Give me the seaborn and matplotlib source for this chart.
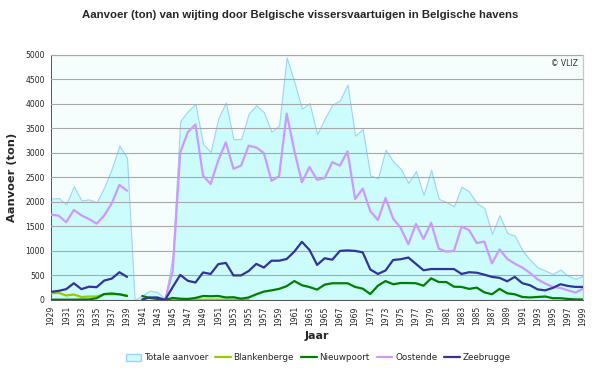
import numpy as np
import pandas as pd
import matplotlib
matplotlib.use("Agg")
import matplotlib.pyplot as plt
from matplotlib.patches import Patch
from matplotlib.lines import Line2D
import seaborn as sns

nan = np.nan
years = list(range(1929, 2000))

# totale aanvoer (ton), 1940 = 0
totaal = [2065, 2080, 1950, 2320, 2030, 2050, 1990, 2300, 2680, 3150, 2900,
          0, 90, 190, 160, 20, 900, 3650, 3850, 4000, 3180,
          3020, 3700, 4030, 3280, 3280, 3800, 3970, 3830, 3430, 3560,
          4950, 4450, 3900, 4015, 3380, 3700, 3980, 4070, 4390, 3350,
          3485, 2540, 2480, 3065, 2825, 2675, 2385, 2630, 2145, 2655,
          2060, 2000, 1910, 2310, 2210, 1975, 1875, 1350, 1730, 1365,
          1310, 1010, 820, 665, 600, 530, 620, 495, 430, 495]

blankenberge = [135, 145, 90, 110, 60, 70, 70, 115, 115, 115, 90,
                nan, nan, nan, nan, 0, 10, 10, 8, 8, 5,
                5, 5, 5, 5, 5, 5, nan, nan, nan, nan,
                nan, nan, nan, nan, nan, nan, nan, nan, nan, nan,
                nan, nan, nan, nan, nan, nan, nan, nan, nan, nan,
                nan, nan, nan, nan, nan, nan, nan, nan, nan, nan,
                nan, nan, nan, nan, nan, nan, nan, nan, nan, nan]

nieuwpoort = [5, 5, 5, 5, 8, 10, 35, 120, 130, 115, 80,
              nan, 80, 40, 20, 0, 40, 25, 20, 40, 80,
              75, 80, 50, 55, 25, 50, 115, 170, 195, 225,
              280, 385, 300, 262, 210, 312, 340, 340, 340, 265,
              230, 120, 290, 385, 320, 345, 345, 340, 290, 440,
              365, 365, 270, 265, 225, 250, 155, 115, 225, 135,
              115, 60, 50, 60, 70, 35, 35, 20, 10, 10]

oostende = [1740, 1720, 1585, 1835, 1725, 1650, 1555, 1720, 1975, 2345, 2230,
            nan, nan, nan, nan, 0, 585, 3010, 3425, 3580, 2535,
            2365, 2845, 3215, 2675, 2740, 3145, 3110, 2995, 2430, 2525,
            3800, 3050, 2400, 2710, 2450, 2485, 2810, 2740, 3030, 2060,
            2270, 1810, 1630, 2080, 1660, 1470, 1135, 1550, 1245, 1575,
            1045, 985, 1000, 1495, 1425, 1160, 1190, 745, 1030, 840,
            740, 660, 550, 420, 335, 265, 245, 195, 150, 230]

zeebrugge = [165, 185, 220, 340, 220, 270, 260, 395, 435, 565, 470,
             nan, 10, 50, 50, 0, 260, 510, 390, 355, 560,
             530, 730, 755, 500, 500, 590, 735, 660, 800, 800,
             835, 985, 1185, 1020, 715, 850, 820, 1000, 1010, 1000,
             970, 620, 530, 600, 815, 830, 865, 735, 605, 630,
             630, 630, 630, 530, 565, 555, 515, 470, 450, 380,
             470, 340, 300, 215, 195, 245, 320, 285, 265, 265]

havens = ["Blankenberge", "Nieuwpoort", "Oostende", "Zeebrugge"]
kleuren = {"Blankenberge": "#99cc00", "Nieuwpoort": "#008000",
           "Oostende": "#cc99ff", "Zeebrugge": "#333399"}

# long form, with a 'periode' so the war gap stays open
rows = []
for naam, vals in zip(havens, [blankenberge, nieuwpoort, oostende, zeebrugge]):
    for j, v in zip(years, vals):
        if not np.isnan(v):
            rows.append({"jaar": j, "haven": naam, "aanvoer": v,
                         "periode": "voor" if j < 1940 else "na"})
df = pd.DataFrame(rows)

sns.set_style("white")
plt.rcParams["font.family"] = ["DejaVu Sans"]

fig = plt.figure(figsize=(6, 3.68), dpi=100)
ax = fig.add_axes([0.085, 0.185, 0.887, 0.666])
ax.set_facecolor("#f6fdfd")

ax.fill_between(years, totaal, 0, color="#ccfcfc", edgecolor="#9fd3f0",
                linewidth=0.8, zorder=1)

sns.lineplot(data=df, x="jaar", y="aanvoer", hue="haven", units="periode",
             estimator=None, palette=kleuren, hue_order=havens,
             linewidth=1.6, legend=False, ax=ax, zorder=3)

ax.set_xlim(1929, 1999)
ax.set_ylim(0, 5000)
ax.set_yticks(np.arange(0, 5001, 500))
ax.set_xticks(range(1929, 2000, 2))
ax.set_xticklabels([str(y) for y in range(1929, 2000, 2)], rotation=90)
ax.tick_params(axis="both", labelsize=5.5, length=3, width=0.6,
               color="#555555", pad=1.5, labelcolor="#222222")
ax.yaxis.grid(True, color="#a8a8a8", linewidth=0.8, zorder=0)
ax.set_axisbelow(False)
for gl in ax.get_ygridlines():
    gl.set_zorder(1.5)

for s in ["top", "right"]:
    ax.spines[s].set_color("#c8c8c8")
    ax.spines[s].set_linewidth(0.9)
for s in ["left", "bottom"]:
    ax.spines[s].set_color("#555555")
    ax.spines[s].set_linewidth(0.7)

ax.set_xlabel("Jaar", fontsize=8, fontweight="bold", labelpad=4, x=0.5)
ax.set_ylabel("Aanvoer (ton)", fontsize=8.2, fontweight="bold", labelpad=6)
fig.suptitle("Aanvoer (ton) van wijting door Belgische vissersvaartuigen in Belgische havens",
             x=0.5, y=0.972, fontsize=8.2, fontweight="bold",
             family=["Liberation Sans", "DejaVu Sans"])
ax.text(0.99, 0.985, "© VLIZ", transform=ax.transAxes, ha="right", va="top",
        fontsize=5.5, color="#333333")

handles = [Patch(facecolor="#ccfcfc", edgecolor="#9fd3f0", label="Totale aanvoer")]
handles += [Line2D([], [], color=kleuren[h], linewidth=1.6, label=h) for h in havens]
fig.legend(handles=handles, loc="center", bbox_to_anchor=(0.53, 0.028), ncol=5,
           frameon=False, fontsize=6.3, handlelength=1.8, handleheight=0.8,
           columnspacing=0.8, handletextpad=0.3)

fig.savefig("out.png", dpi=100)
